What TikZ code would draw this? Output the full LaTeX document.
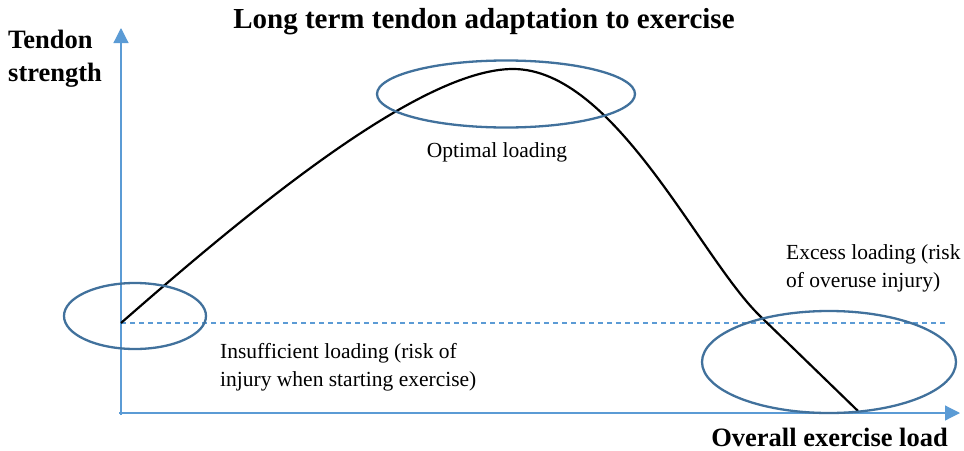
\documentclass[tikz,border=0pt]{standalone}
\usepackage{fontspec}
\setmainfont{Liberation Serif}
\usetikzlibrary{arrows.meta,shapes.geometric}
\definecolor{axisblue}{HTML}{5B9BD5}
\definecolor{ringblue}{HTML}{41719C}
\begin{document}
\begin{tikzpicture}[x=1pt,y=-1pt,
  axis/.style={draw=axisblue,line width=1.2pt,-{Triangle[length=15pt,width=15pt]}},
  ring/.style={draw=ringblue,line width=2.3pt},
  lbl/.style={font=\fontsize{21.5}{28}\selectfont,align=left,inner sep=0pt},
  bold/.style={font=\fontsize{26.5}{33}\selectfont\bfseries,align=left,inner sep=0pt}]
\useasboundingbox (0,0) rectangle (964,450);
\coordinate (ytip) at (121,28);
\coordinate (xtip) at (960,413);
\coordinate (d0) at (121,323);
\coordinate (d1) at (945,323);
\coordinate (c0) at (121,323);
\coordinate (peak) at (513,69);
\coordinate (bend) at (760,316);
\coordinate (cend) at (858,411);
\draw[axis] (121,415) -- (ytip);
\draw[axis] (119,413) -- (xtip);
\draw[axisblue,line width=1.1pt,dash pattern=on 5pt off 4pt] (d0) -- (d1);
\draw[black,line width=2.2pt,line join=round] (c0) .. controls (250,210) and (420,69) .. (peak)
  .. controls (615,69) and (700,258) .. (bend) -- (cend);
\node[ring,ellipse,inner sep=0pt,minimum width=142pt,minimum height=66pt] (e1) at (135,316) {};
\node[ring,ellipse,inner sep=0pt,minimum width=258pt,minimum height=67pt] (e2) at (506,94) {};
\node[ring,ellipse,inner sep=0pt,minimum width=254pt,minimum height=102pt] (e3) at (829,362) {};
\node[font=\fontsize{29}{34}\selectfont\bfseries,inner sep=0pt] (title) at (484,22) {Long term tendon adaptation to exercise};
\node[bold,anchor=north west] (ylab) at (8,30) {Tendon\\strength};
\node[bold,anchor=east] (xlab) at (948,437) {Overall exercise load};
\node[lbl] (opt) at (497,152) {Optimal loading};
\node[lbl,anchor=north west] (exc) at (786,244) {Excess loading (risk\\of overuse injury)};
\node[lbl,anchor=north west] (ins) at (220,343) {Insufficient loading (risk of\\injury when starting exercise)};
\end{tikzpicture}
\end{document}
